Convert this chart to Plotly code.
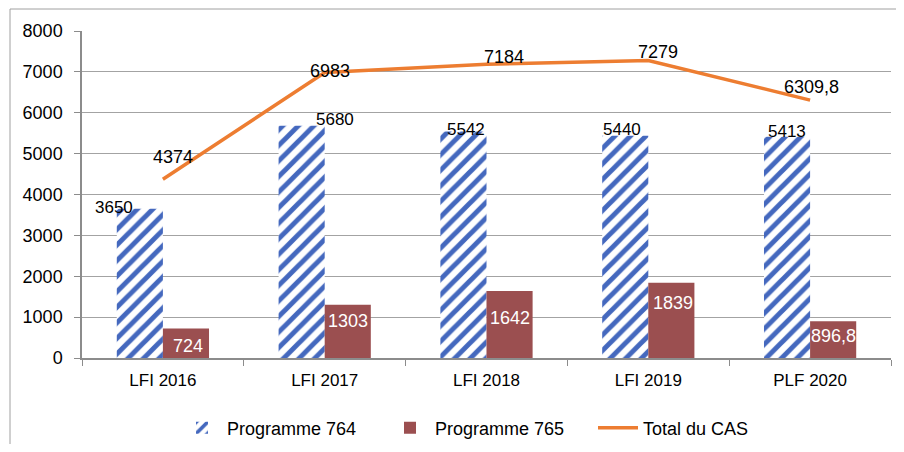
import plotly.graph_objects as go

categories = ["LFI 2016", "LFI 2017", "LFI 2018", "LFI 2019", "PLF 2020"]
prog764 = [3650, 5680, 5542, 5440, 5413]
prog765 = [724, 1303, 1642, 1839, 896.8]
total_cas = [4374, 6983, 7184, 7279, 6309.8]
y_ticks = [0, 1000, 2000, 3000, 4000, 5000, 6000, 7000, 8000]

# label offsets in pixels (dx, dy with dy positive downward), styling only
off764 = [(-26, -1), (33, -6), (3, -2), (-3, -6), (0, -5)]
off765 = [(2, 18), (0, 16), (0, 27), (2, 20), (0, 15)]
offtot = [(10, -22), (5, -2), (17, -7), (10, -8), (1, -13)]

# the page body adds an 8px margin, so the figure is sized to fit inside it
W, H = 888, 436
ML, MR, MT, MB = 74, 5, 23, 86
BARGAP = 0.43
plot_w = W - ML - MR
plot_h = H - MT - MB
cat_w = plot_w / len(categories)
bar_w = cat_w * (1 - BARGAP) / 2

FONT = "Liberation Sans, Arial, sans-serif"
BLUE = "#4468BE"
RED = "#9B4F50"
ORANGE = "#ED7D31"
GRID = "#A3A3A3"


def fmt(v):
    s = ("%g" % v)
    return s.replace(".", ",")


fig = go.Figure()
fig.add_trace(go.Bar(
    name="Programme 764", x=categories, y=prog764,
    marker=dict(color="white", line=dict(width=0),
                pattern=dict(shape="/", fgcolor=BLUE, bgcolor="white",
                             fgopacity=1, size=11, solidity=0.45)),
))
fig.add_trace(go.Bar(
    name="Programme 765", x=categories, y=prog765,
    marker=dict(color=RED, line=dict(width=0)),
))
fig.add_trace(go.Scatter(
    name="Total du CAS", x=categories, y=total_cas, mode="lines",
    line=dict(color=ORANGE, width=3.5),
))

ann = []
for i, c in enumerate(categories):
    dx, dy = off764[i]
    ann.append(dict(x=c, y=prog764[i], text=fmt(prog764[i]), showarrow=False,
                    xshift=-bar_w / 2 + dx, yshift=-dy, yanchor="middle",
                    font=dict(size=17, color="black", family=FONT)))
    dx, dy = off765[i]
    ann.append(dict(x=c, y=prog765[i], text=fmt(prog765[i]), showarrow=False,
                    xshift=bar_w / 2 + dx, yshift=-dy, yanchor="middle",
                    font=dict(size=18, color="white", family=FONT)))
    dx, dy = offtot[i]
    ann.append(dict(x=c, y=total_cas[i], text=fmt(total_cas[i]), showarrow=False,
                    xshift=dx, yshift=-dy, yanchor="middle",
                    font=dict(size=18, color="black", family=FONT)))

# outer chart border (left and top)
bx = (2 - ML) / plot_w
by = 1 + (MT - 1) / plot_h
by0 = -(MB) / plot_h
shapes = [
    dict(type="line", xref="paper", yref="paper", x0=bx, x1=bx, y0=by0, y1=by,
         line=dict(color="#A0A0A0", width=1)),
    dict(type="line", xref="paper", yref="paper", x0=bx, x1=1 + MR / plot_w, y0=by, y1=by,
         line=dict(color="#A0A0A0", width=1)),
]

fig.update_layout(
    width=W, height=H,
    margin=dict(l=ML, r=MR, t=MT, b=MB, autoexpand=False),
    paper_bgcolor="white", plot_bgcolor="white",
    barmode="group", bargap=BARGAP, bargroupgap=0,
    font=dict(family=FONT, size=17, color="black"),
    annotations=ann, shapes=shapes,
    showlegend=True,
    legend=dict(orientation="h", x=(169 - ML) / plot_w, xanchor="left",
                y=-70 / plot_h, yanchor="middle",
                font=dict(size=18, family=FONT), itemwidth=40,
                entrywidth=153, entrywidthmode="pixels",
                bgcolor="rgba(0,0,0,0)"),
)
fig.update_xaxes(
    showline=True, linecolor="#8C8C8C", linewidth=1.5,
    ticks="outside", tickson="boundaries", ticklen=6, tickcolor="#8C8C8C",
    showgrid=False, tickfont=dict(size=17), ticklabelstandoff=6, automargin=False,
)
fig.update_yaxes(
    range=[0, 8000], tickvals=y_ticks, ticktext=[str(t) for t in y_ticks],
    showline=True, linecolor="#8C8C8C", linewidth=1.5,
    ticks="outside", ticklen=6, tickcolor="#8C8C8C",
    showgrid=True, gridcolor=GRID, gridwidth=1, zeroline=False,
    tickfont=dict(size=18), ticklabelstandoff=8, automargin=False,
)

fig.write_html("out.html")
